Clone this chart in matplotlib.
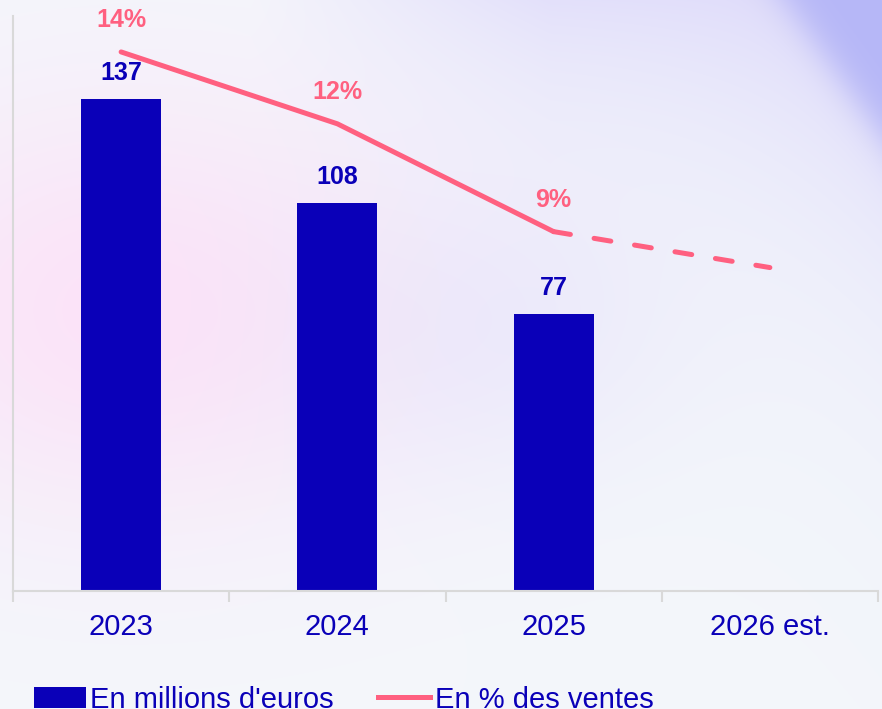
import numpy as np
import matplotlib
matplotlib.use("Agg")
import matplotlib.pyplot as plt
from matplotlib.patches import Patch
from matplotlib.lines import Line2D

plt.rcParams["font.family"] = ["Liberation Sans", "DejaVu Sans"]

# Data
years = ["2023", "2024", "2025", "2026 est."]
amounts = [137, 108, 77]          # en millions d'euros
pct_sales = [14, 12, 9, 8]        # en % des ventes
pct_labels = ["14%", "12%", "9%"]

BLUE = "#0A00B8"
PINK = "#FF6080"
GRID = "#D9D9D9"

W, H = 882, 709
fig = plt.figure(figsize=(W / 100, H / 100), dpi=100)

# --------- background gradient ---------
yy, xx = np.mgrid[0:H, 0:W].astype(float)
base = np.array([244, 247, 251], float)
pink = np.array([252, 226, 248], float)
lav = np.array([222, 218, 250], float)
dark = np.array([182, 183, 247], float)


def blend(img, col, w):
    return img * (1 - w[..., None]) + col * w[..., None]


bg = np.ones((H, W, 3)) * base
w_top = 0.75 * np.exp(-yy / 120) * np.clip((xx - 250) / 300, 0, 1)
bg = blend(bg, lav, w_top)
w_pink = 0.95 * np.exp(-(((xx - 130) / 300) ** 2 + ((yy - 310) / 220) ** 2))
bg = blend(bg, pink, w_pink)
w_mid = 0.35 * np.exp(-(((xx - 480) / 200) ** 2 + ((yy - 330) / 150) ** 2))
bg = blend(bg, lav, w_mid)
s = (xx - 785) * 0.814 - yy * 0.581
w_lav = 0.6 * np.exp(np.clip(s, None, 0) / 120)
bg = blend(bg, lav, w_lav)
w_dark = 1 / (1 + np.exp(-s / 10))
bg = blend(bg, dark, w_dark)
bg_ax = fig.add_axes([0, 0, 1, 1], zorder=-1)
bg_ax.imshow(bg.astype(np.uint8), aspect="auto")
bg_ax.axis("off")

# --------- bars ---------
ax = fig.add_axes([13 / W, 1 - 591 / H, 865 / W, 575 / H])
ax.patch.set_alpha(0)
x = np.arange(len(years))
bars = ax.bar(x[:len(amounts)], amounts, width=0.37, color=BLUE, zorder=2)
for b, v in zip(bars, amounts):
    ax.annotate(str(v), (b.get_x() + b.get_width() / 2, v), xytext=(0, 10),
                textcoords="offset points", ha="center", va="bottom",
                fontsize=18, fontweight="bold", color=BLUE)
ax.set_xlim(-0.5, 3.5)
ax.set_ylim(0, 160)
ax.set_yticks([])
for side in ["top", "right"]:
    ax.spines[side].set_visible(False)
ax.spines["left"].set_color(GRID)
ax.spines["bottom"].set_color(GRID)
ax.spines["left"].set_linewidth(1.5)
ax.spines["bottom"].set_linewidth(1.5)
ax.set_xticks(x)
ax.set_xticklabels(years, fontsize=21, color=BLUE)
ax.set_xticks(np.arange(-0.5, 4, 1), minor=True)
ax.tick_params(axis="x", which="major", length=0, pad=16)
ax.tick_params(axis="x", which="minor", length=8, width=1.5, color=GRID)

# --------- line (secondary axis) ---------
ax2 = ax.twinx()
ax2.set_ylim(-1, 15)
ax2.axis("off")
ax2.plot(x[:3], pct_sales[:3], color=PINK, lw=3.6, solid_capstyle="round",
         solid_joinstyle="round")
ax2.plot(x[2:], pct_sales[2:], color=PINK, lw=3.6, dashes=(3.4, 4.8),
         dash_capstyle="round")
for xi, v, lab in zip(x, pct_sales, pct_labels):
    ax2.annotate(lab, (xi, v), xytext=(0, 14), textcoords="offset points",
                 ha="center", va="bottom", fontsize=18, fontweight="bold",
                 color=PINK)

# --------- legend ---------
handles = [Patch(facecolor=BLUE), Line2D([], [], color=PINK, lw=3.6)]
leg = fig.legend(handles, ["En millions d'euros", "En % des ventes"],
                 loc="upper left", bbox_to_anchor=(19 / W, 1 - 671 / H),
                 ncol=2, frameon=False, fontsize=21, handlelength=1.8,
                 handletextpad=0.15, columnspacing=1.5, borderpad=0)
for t in leg.get_texts():
    t.set_color(BLUE)

fig.savefig("out.png", dpi=100)
